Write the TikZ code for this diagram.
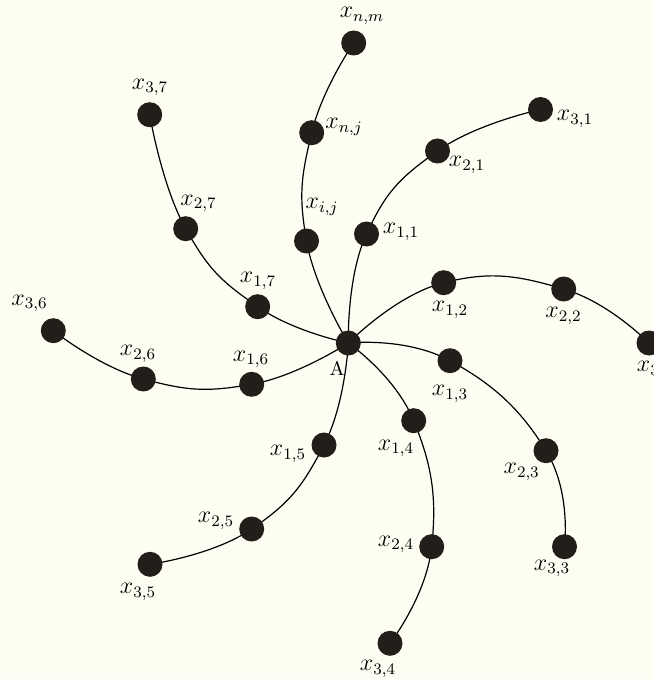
\documentclass[tikz,border=0pt]{standalone}
\pgfdeclarelayer{bg}
\pgfdeclarelayer{edges}
\pgfsetlayers{bg,edges,main}
\definecolor{paper}{RGB}{253,253,242}
\definecolor{dotc}{RGB}{34,30,25}
\tikzset{
  dot/.style={circle, fill=dotc, inner sep=0pt, minimum size=12.5pt},
  lab/.style={inner sep=0pt, font=\fontsize{11.5}{13}\selectfont},
  branch/.style={draw=black, line width=0.6pt, smooth, tension=0.8},
}
\begin{document}
\begin{tikzpicture}[x=0.5pt,y=-0.5pt]
\begin{pgfonlayer}{bg}
\fill[paper] (0,0) rectangle (653,679);
\end{pgfonlayer}
\useasboundingbox (0,0) rectangle (653,679);
% nodes
\node[dot] (A) at (348.3,343) {};
\node[inner sep=0pt, font=\fontsize{10}{12}\selectfont] (lA) at (337,368) {A};
% branch n
\node[dot] (xij) at (306.5,241) {};
\node[dot] (xnj) at (311.7,132.7) {};
\node[dot] (xnm) at (353.7,43) {};
\node[lab] (lxij) at (322,207) {$x_{i,j}$};
\node[lab] (lxnj) at (344,127) {$x_{n,j}$};
\node[lab] (lxnm) at (362,16) {$x_{n,m}$};
% branch 1
\node[dot] (x11) at (366.5,234) {};
\node[dot] (x21) at (437.5,151) {};
\node[dot] (x31) at (540.5,109.5) {};
\node[lab] (lx11) at (401,232) {$x_{1,1}$};
\node[lab] (lx21) at (467,165) {$x_{2,1}$};
\node[lab] (lx31) at (575,119) {$x_{3,1}$};
% branch 2
\node[dot] (x12) at (443.7,282.7) {};
\node[dot] (x22) at (563.7,289) {};
\node[dot] (x32) at (649,343) {};
\node[lab] (lx12) at (450,310) {$x_{1,2}$};
\node[lab] (lx22) at (563.5,316) {$x_{2,2}$};
\node[lab] (lx32) at (655,370) {$x_{3,2}$};
% branch 3
\node[dot] (x13) at (450,360.7) {};
\node[dot] (x23) at (546,450.7) {};
\node[dot] (x33) at (564.5,546.7) {};
\node[lab] (lx13) at (450,394) {$x_{1,3}$};
\node[lab] (lx23) at (521.7,472) {$x_{2,3}$};
\node[lab] (lx33) at (552,568.5) {$x_{3,3}$};
% branch 4
\node[dot] (x14) at (413.7,420.7) {};
\node[dot] (x24) at (431.7,546.7) {};
\node[dot] (x34) at (390,643.3) {};
\node[lab] (lx14) at (396,448.3) {$x_{1,4}$};
\node[lab] (lx24) at (396,544.5) {$x_{2,4}$};
\node[lab] (lx34) at (378,669) {$x_{3,4}$};
% branch 5
\node[dot] (x15) at (324,445) {};
\node[dot] (x25) at (251.7,529) {};
\node[dot] (x35) at (150,564.3) {};
\node[lab] (lx15) at (288,454) {$x_{1,5}$};
\node[lab] (lx25) at (216,521) {$x_{2,5}$};
\node[lab] (lx35) at (138,592) {$x_{3,5}$};
% branch 6
\node[dot] (x16) at (251.7,384.3) {};
\node[dot] (x26) at (143.3,379) {};
\node[dot] (x36) at (53.3,330.7) {};
\node[lab] (lx16) at (251,359.5) {$x_{1,6}$};
\node[lab] (lx26) at (138,354) {$x_{2,6}$};
\node[lab] (lx36) at (29.5,303.5) {$x_{3,6}$};
% branch 7
\node[dot] (x17) at (257.7,306.7) {};
\node[dot] (x27) at (185.7,228.7) {};
\node[dot] (x37) at (149.7,114.7) {};
\node[lab] (lx17) at (258,281) {$x_{1,7}$};
\node[lab] (lx27) at (198.5,203.5) {$x_{2,7}$};
\node[lab] (lx37) at (150,87.5) {$x_{3,7}$};
% connectors
\begin{pgfonlayer}{edges}
\draw[branch] plot coordinates {(A.center) (xij.center) (xnj.center) (xnm.center)};
\draw[branch] plot coordinates {(A.center) (x11.center) (x21.center) (x31.center)};
\draw[branch] plot coordinates {(A.center) (x12.center) (x22.center) (x32.center)};
\draw[branch] plot coordinates {(A.center) (x13.center) (x23.center) (x33.center)};
\draw[branch] plot coordinates {(A.center) (x14.center) (x24.center) (x34.center)};
\draw[branch] plot coordinates {(A.center) (x15.center) (x25.center) (x35.center)};
\draw[branch] plot coordinates {(A.center) (x16.center) (x26.center) (x36.center)};
\draw[branch] plot coordinates {(A.center) (x17.center) (x27.center) (x37.center)};
\end{pgfonlayer}
\end{tikzpicture}
\end{document}
